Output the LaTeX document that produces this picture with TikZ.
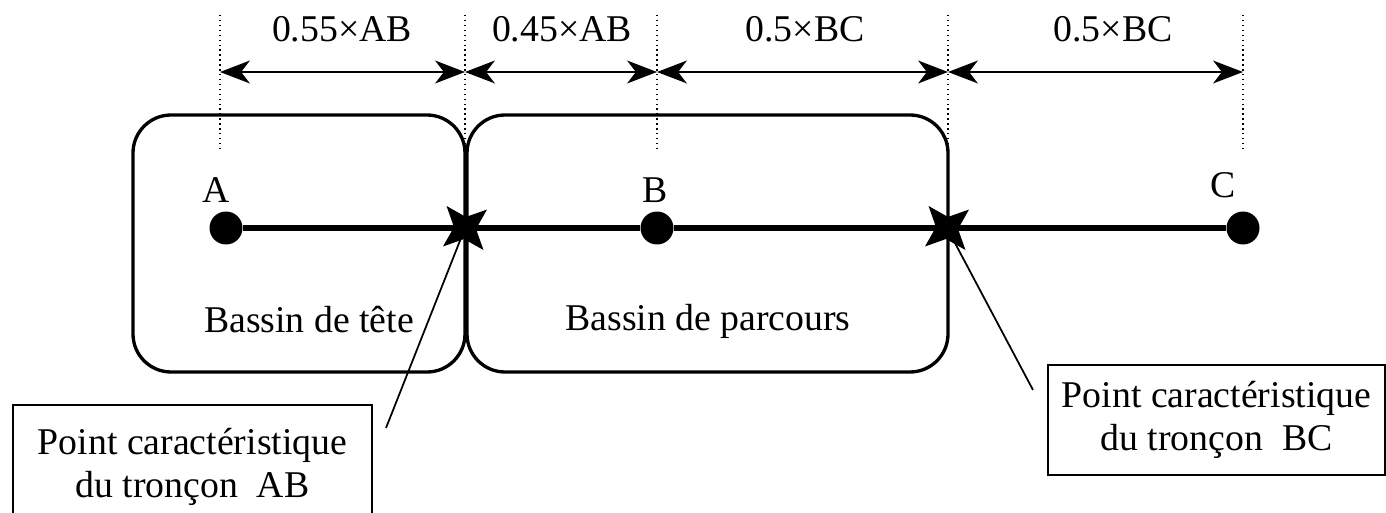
\documentclass[tikz,border=0pt]{standalone}
\usepackage{fontspec}
\setmainfont{Liberation Serif}
\usetikzlibrary{arrows.meta,positioning,shapes.geometric}

\begin{document}
\begin{tikzpicture}[x=0.02cm, y=-0.02cm,
	every node/.style={font=\fontsize{21.5}{24.5}\selectfont},
	bassin/.style={draw, line width=1.9pt, rounded corners=0.76cm},
	pt/.style={circle, fill=black, inner sep=0pt, minimum size=0.66cm},
	carac/.style={star, star points=4, star point ratio=2.6, fill=black,
		inner sep=0pt, minimum size=1.15cm, rotate=40},
	cote/.style={{Stealth[length=17pt,width=13pt,inset=5pt]}-{Stealth[length=17pt,width=13pt,inset=5pt]},
		line width=1.2pt},
	repere/.style={dotted, line width=0.8pt},
	legende/.style={draw, line width=0.7pt, align=center, inner sep=0pt},
	fil/.style={line width=1pt}
	]
\useasboundingbox (0,0) rectangle (1386,513);
\clip (0,0) rectangle (1386,513);
% bassins
\draw[bassin] (133,115) rectangle (465,372);
\draw[bassin] (467,115) rectangle (948,372);
\node[anchor=base] (tete) at (309,332) {Bassin de t\^ete};
\node[anchor=base] (parcours) at (708,330) {Bassin de parcours};
% reperes et cotes
\foreach \x/\n in {220/r1, 465/r2, 657/r3, 948/r4, 1243/r5}{
	\draw[repere] (\x,15) -- (\x,150);
	\coordinate (\n) at (\x,72);
}
\draw[cote] (r1) -- (r2);
\draw[cote] (r2) -- (r3);
\draw[cote] (r3) -- (r4);
\draw[cote] (r4) -- (r5);
\node[anchor=base] (c1) at (342,42) {0.55×AB};
\node[anchor=base] (c2) at (562,42) {0.45×AB};
\node[anchor=base] (c3) at (805,42) {0.5×BC};
\node[anchor=base] (c4) at (1113,42) {0.5×BC};
% troncons
\node[pt] (A) at (226,228) {};
\node[pt] (B) at (657,228) {};
\node[pt] (C) at (1243,228) {};
\node[anchor=base] (lA) at (216,203) {A};
\node[anchor=base] (lB) at (655,203) {B};
\node[anchor=base] (lC) at (1223,198) {C};
\draw[line width=2.9pt] (A) -- (B);
\draw[line width=2.9pt] (B) -- (C);
\node[carac] (sAB) at (465,228) {};
\node[carac] (sBC) at (947,228) {};
% points caracteristiques
\node[legende, minimum width=7.18cm, minimum height=2.48cm] (pAB) at (192.5,467)
	{Point caractéristique\\du tronçon\ \ AB};
\node[legende, minimum width=6.74cm, minimum height=2.2cm] (pBC) at (1216.5,420)
	{Point caractéristique\\du tronçon\ \ BC};
\coordinate (fAB) at (386,428);
\coordinate (fBC) at (1033,390);
\draw[fil] (sAB.center) -- (fAB);
\draw[fil] (sBC.center) -- (fBC);
\end{tikzpicture}
\end{document}
